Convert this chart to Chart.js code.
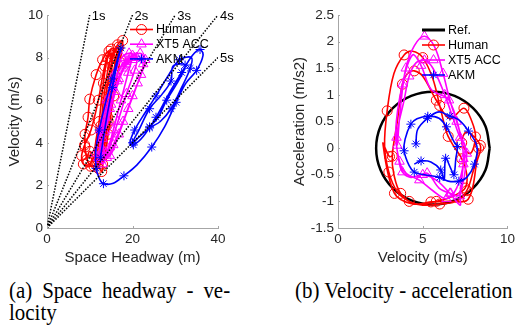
<!DOCTYPE html>
<html>
<head>
<meta charset="utf-8">
<script src="https://cdn.jsdelivr.net/npm/chart.js@4.4.1/dist/chart.umd.min.js"></script>
<style>
body { margin: 0; background: #fff; }
#page { position: relative; width: 518px; height: 326px; overflow: hidden; }
canvas { position: absolute; top: 0; }
#c1 { left: 0; }
#c2 { left: 259px; }
.cap { position: absolute; top: 280px; font-family: "Liberation Serif", "Times New Roman", serif; font-size: 23px; line-height: 22px; color: #000; transform: scaleX(0.91); transform-origin: 0 0; white-space: nowrap; }
.cap .just { width: 243px; white-space: normal; text-align: justify; text-align-last: justify; }
</style>
</head>
<body>
<div id="page">
  <canvas id="c1" width="259" height="271"></canvas>
  <canvas id="c2" width="259" height="271"></canvas>
  <div class="cap" style="left:9px"><div class="just">(a) Space headway - ve-</div><div>locity</div></div>
  <div class="cap" style="left:295px">(b) Velocity - acceleration</div>
</div>
<script>
// ---- data: (a) space headway vs velocity ----
var headwayTicks = [0, 20, 40];
var speedTicks = [0, 2, 4, 6, 8, 10];
var gapNames = ['1s', '2s', '3s', '4s', '5s'];
var gapEndHeadway = [10, 20, 30, 40, 40];
var gapEndSpeed = [10, 10, 10, 10, 8];

var humanGap = [12.0, 12.8, 14.0, 15.5, 16.8, 15.8, 14.2, 12.5, 11.0, 9.6, 8.9, 8.9, 9.6, 10.0, 11.5, 13.0, 14.5, 15.2, 14.0, 12.8,
  11.3, 10.2, 8.5, 8.1, 8.8, 10.3, 12.0, 13.5, 15.0, 16.3, 15.5, 14.3, 13.2, 12.8, 11.8, 12.6, 13.6, 14.8, 16.5, 17.7,
  17.0, 15.6, 14.3, 13.0, 11.2, 12.2, 13.2, 14.2, 15.4, 16.0, 15.0, 13.8, 12.6, 11.5, 10.0, 9.3];
var humanSpeed = [2.8, 4.5, 6.5, 8.1, 8.5, 7.2, 5.2, 3.6, 2.9, 3.1, 3.8, 4.4, 5.2, 6.05, 7.2, 7.9, 8.3, 7.6, 5.8, 4.0,
  3.0, 2.9, 3.0, 3.4, 3.9, 4.6, 6.0, 7.6, 8.4, 8.2, 6.8, 5.0, 3.4, 2.65, 3.2, 4.8, 6.6, 7.9, 8.6, 8.8,
  7.8, 6.2, 4.4, 3.0, 3.4, 5.0, 6.8, 8.0, 8.2, 8.0, 6.6, 4.8, 3.3, 3.1, 3.6, 3.2];

var xt5Gap = [12.5, 13.5, 15.0, 16.8, 18.5, 20.0, 19.0, 17.3, 15.5, 13.8, 12.0, 11.3, 12.5, 14.0, 15.7, 17.5, 19.2, 21.0, 20.5, 18.6,
  16.6, 14.7, 13.0, 12.4, 13.6, 15.4, 17.3, 19.5, 21.8, 23.0, 22.0, 20.0, 17.8, 15.5, 14.0, 13.0, 14.7, 16.5, 18.5, 20.5,
  22.5, 21.2, 19.0, 16.8, 14.7, 12.8, 14.2, 16.0, 18.0, 20.0];
var xt5Speed = [3.2, 4.5, 5.8, 7.0, 7.8, 8.1, 7.3, 6.0, 4.6, 3.5, 3.3, 3.5, 4.6, 6.0, 7.2, 8.0, 8.2, 8.0, 7.4, 6.3,
  5.0, 3.8, 3.0, 3.9, 5.2, 6.6, 7.6, 8.0, 8.2, 7.9, 7.2, 6.2, 5.0, 3.9, 3.3, 4.2, 5.6, 6.9, 7.7, 8.0,
  7.7, 6.8, 5.6, 4.4, 3.4, 3.6, 5.0, 6.4, 7.5, 7.9];

var akmGap = [12.5, 13.8, 15.3, 16.5, 17.3, 16.6, 15.2, 13.6, 12.2, 11.4, 11.5, 12.3, 13.2, 15.5, 18.0, 21.0, 24.5, 27.5, 30.2, 32.5,
  35.0, 36.5, 35.8, 34.0, 31.5, 28.5, 25.5, 22.5, 20.2, 19.4, 20.5, 22.9, 25.5, 28.5, 31.0, 33.8, 33.5, 31.5, 29.0, 26.5,
  24.0, 21.7, 20.0, 21.5, 24.0, 26.8, 29.0, 29.5, 32.3, 31.0, 28.0, 26.0, 24.0];
var akmSpeed = [3.3, 5.0, 6.6, 7.8, 8.45, 8.0, 7.0, 5.8, 4.6, 3.6, 2.8, 2.3, 2.08, 2.1, 2.45, 2.95, 3.8, 4.75, 5.9, 6.8,
  7.4, 8.1, 8.38, 8.1, 7.3, 6.3, 5.2, 4.3, 3.9, 4.0, 4.6, 5.4, 6.2, 7.2, 7.9, 8.0, 7.5, 6.6, 5.6, 5.0,
  4.7, 4.3, 4.0, 4.6, 5.6, 6.25, 6.9, 7.6, 7.65, 7.0, 6.0, 5.2, 4.75];

// ---- data: (b) velocity vs acceleration ----
var velTicks = [0, 5, 10];
var accTicks = [-1.5, -1, -0.5, 0, 0.5, 1, 1.5, 2, 2.5];

var refVel = [8.95, 8.70, 7.97, 6.88, 5.6, 4.32, 3.23, 2.51, 2.25, 2.51, 3.23, 4.32, 5.6, 6.88, 7.97, 8.70, 8.95];
var refAcc = [0, 0.41, 0.75, 0.98, 1.06, 0.98, 0.75, 0.41, 0, -0.41, -0.75, -0.98, -1.06, -0.98, -0.75, -0.41, 0];

var humanVel = [8.3, 8.0, 7.6, 7.0, 6.0, 5.0, 4.2, 3.5, 3.0, 2.75, 2.9, 3.3, 3.9, 4.4, 5.0, 5.6, 6.0, 6.35, 6.5, 6.8,
  7.3, 7.6, 7.5, 6.8, 5.8, 4.6, 3.7, 3.3, 3.2, 3.5, 3.8, 4.1, 4.5, 5.0, 5.8, 6.6, 7.43, 7.9, 8.11, 7.8,
  7.3, 7.6, 8.4, 8.2, 7.68, 6.5, 5.48, 4.4, 3.33, 2.65, 3.04, 3.25];
var humanAcc = [0.0, -0.4, -0.8, -1.0, -1.05, -1.07, -1.0, -0.82, -0.45, 0.05, 0.7, 1.4, 1.75, 1.82, 1.7, 1.3, 0.8, 0.35, 0.22, 0.05,
  -0.2, -0.5, -0.75, -0.9, -1.0, -1.05, -0.85, -0.5, -0.15, 0.5, 1.2, 1.4, 1.45, 1.35, 0.9, 0.55, 0.75, 0.5, 0.21, -0.1,
  0.1, 0.3, 0.05, -0.25, -0.96, -1.0, -1.01, -1.05, -0.85, 0.09, -0.16, -0.13];

var xt5Vel = [3.5, 3.7, 4.0, 4.5, 5.1, 5.7, 6.2, 6.6, 7.0, 7.3, 7.4, 7.3, 7.2, 7.2, 6.6, 5.8, 5.0, 4.3, 3.8, 3.6,
  3.45, 3.9, 4.2, 4.6, 5.1, 5.6, 6.3, 6.8, 7.2, 7.5, 7.4, 7.0, 6.4, 5.6, 4.8, 4.0, 3.63, 3.4, 3.8, 4.4,
  4.9, 5.5, 6.55, 7.33, 7.6, 7.16, 6.65, 5.96, 5.26, 4.6];
var xt5Acc = [0.05, 0.8, 1.5, 1.92, 2.1, 1.9, 1.4, 0.9, 0.5, 0.15, -0.2, -0.6, -0.9, -1.07, -0.85, -0.6, -0.5, -0.55, -0.45, -0.25,
  0.2, 0.9, 1.35, 1.6, 1.65, 1.5, 1.0, 0.55, 0.2, 0.05, -0.3, -0.75, -0.95, -0.8, -0.6, -0.47, -0.25, 0.3, 1.2, 1.75,
  1.55, 1.1, 0.9, 0.15, -0.1, -0.88, -0.85, -0.75, -0.47, -0.57];

var akmVel = [4.6, 4.7, 5.28, 5.96, 6.6, 7.13, 7.7, 8.2, 8.05, 7.6, 7.13, 6.5, 6.0, 5.09, 4.5, 4.2, 3.9, 3.96, 4.3, 4.66,
  5.3, 5.96, 6.4, 6.84, 7.04, 6.95, 6.84, 6.65, 6.35, 6.26, 6.06, 5.48, 4.9, 4.5];
var akmAcc = [0.08, 0.35, 0.56, 0.68, 0.6, 0.53, 0.32, 0.03, -0.3, -0.55, -0.62, -0.62, -0.55, -0.5, -0.45, -0.33, -0.05, 0.17, 0.45, 0.55,
  0.6, 0.56, 0.4, 0.12, 0.03, -0.2, -0.5, -0.38, -0.19, -0.6, -0.41, -0.26, -0.24, -0.3];

// ---- styles ----
var FONT = '"Liberation Sans", Arial, Helvetica, sans-serif';
var TEXT_COLOR = '#262626';
var AXIS_COLOR = '#a6a6a6';

var REF = {label: 'Ref.', color: '#000000', width: 2.5, marker: null};
var HUMAN = {label: 'Human', color: '#ff0000', width: 1.6, marker: 'circle', radius: 5};
var XT5 = {label: 'XT5 ACC', color: '#ff00ff', width: 1.6, marker: 'triangle', radius: 5.5};
var AKM = {label: 'AKM', color: '#0000ff', width: 1.6, marker: 'star', radius: 4.5};

function pairs(xs, ys) {
    return xs.map(function(x, i) { return {x: x, y: ys[i]}; });
}

function series(s, xs, ys, every, order) {
    return {
        data: pairs(xs, ys),
        showLine: true,
        tension: 0.35,
        borderColor: s.color,
        borderWidth: s.width,
        pointStyle: s.marker || 'circle',
        pointRadius: function(ctx) { return (s.marker && ctx.dataIndex % every === 0) ? s.radius : 0; },
        pointHoverRadius: 0,
        pointBorderColor: s.color,
        pointBackgroundColor: 'rgba(0,0,0,0)',
        pointBorderWidth: 1,
        order: order
    };
}

function axis(ticks, min, max, title, size, horizontal) {
    return {
        type: 'linear',
        min: min,
        max: max,
        afterBuildTicks: function(scale) {
            scale.ticks = ticks.map(function(v) { return {value: v}; });
        },
        afterFit: function(scale) {
            if (horizontal) { scale.height = size; } else { scale.width = size; }
        },
        ticks: {
            callback: function(v) { return String(v); },
            font: {family: FONT, size: 13.5},
            color: TEXT_COLOR,
            padding: horizontal ? 3 : 4,
            maxRotation: 0,
            autoSkip: false
        },
        grid: {drawOnChartArea: false, drawTicks: false},
        border: {color: AXIS_COLOR, width: 1},
        title: {display: true, text: title, font: {family: FONT, size: 15}, color: TEXT_COLOR, padding: {top: 4, bottom: 4}}
    };
}

function drawMarker(ctx, style, x, y, r) {
    ctx.beginPath();
    if (style === 'circle') {
        ctx.arc(x, y, r, 0, Math.PI * 2);
    } else if (style === 'triangle') {
        for (let k = 0; k < 3; k++) {
            const a = k * 2 * Math.PI / 3;
            const px = x + Math.sin(a) * r, py = y - Math.cos(a) * r;
            if (k) { ctx.lineTo(px, py); } else { ctx.moveTo(px, py); }
        }
        ctx.closePath();
    } else if (style === 'star') {
        for (let k = 0; k < 4; k++) {
            const a = k * Math.PI / 4;
            ctx.moveTo(x + Math.cos(a) * r, y + Math.sin(a) * r);
            ctx.lineTo(x - Math.cos(a) * r, y - Math.sin(a) * r);
        }
    }
    ctx.stroke();
}

// legend drawn inside the plot, no box (like matlab 'boxoff')
function legendPlugin(id, entries, x0, y0, dy) {
    return {
        id: id,
        afterDraw: function(chart) {
            const ctx = chart.ctx;
            ctx.save();
            entries.forEach(function(e, i) {
                const y = y0 + i * dy;
                ctx.strokeStyle = e.color;
                ctx.lineWidth = e.marker ? e.width : 3;
                ctx.beginPath();
                ctx.moveTo(x0, y);
                ctx.lineTo(x0 + 23, y);
                ctx.stroke();
                if (e.marker) {
                    ctx.lineWidth = 1;
                    drawMarker(ctx, e.marker, x0 + 11.5, y, e.radius);
                }
                ctx.fillStyle = '#000';
                ctx.font = '12.5px ' + FONT;
                ctx.textAlign = 'left';
                ctx.textBaseline = 'middle';
                ctx.fillText(e.label, x0 + 26, y + 0.5);
            });
            ctx.restore();
        }
    };
}

// small inward ticks
var innerTicks = {
    id: 'innerTicks',
    afterDraw: function(chart) {
        const ctx = chart.ctx, a = chart.chartArea, sx = chart.scales.x, sy = chart.scales.y;
        ctx.save();
        ctx.strokeStyle = AXIS_COLOR;
        ctx.lineWidth = 1;
        ctx.beginPath();
        sx.ticks.forEach(function(t) {
            const px = Math.round(sx.getPixelForValue(t.value)) + 0.5;
            ctx.moveTo(px, a.bottom);
            ctx.lineTo(px, a.bottom - 2);
        });
        sy.ticks.forEach(function(t) {
            const py = Math.round(sy.getPixelForValue(t.value)) + 0.5;
            ctx.moveTo(a.left, py);
            ctx.lineTo(a.left + 2, py);
        });
        ctx.stroke();
        ctx.restore();
    }
};

var gapLabels = {
    id: 'gapLabels',
    afterDraw: function(chart) {
        const ctx = chart.ctx, sx = chart.scales.x, sy = chart.scales.y;
        ctx.save();
        ctx.fillStyle = '#000';
        ctx.font = '13px ' + FONT;
        ctx.textAlign = 'left';
        ctx.textBaseline = 'middle';
        gapNames.forEach(function(name, i) {
            ctx.fillText(name, sx.getPixelForValue(gapEndHeadway[i]) + 2, sy.getPixelForValue(gapEndSpeed[i]) + 1);
        });
        ctx.restore();
    }
};

var gapDatasets = gapNames.map(function(name, i) {
    return {
        data: [{x: 0, y: 0}, {x: gapEndHeadway[i], y: gapEndSpeed[i]}],
        showLine: true,
        borderColor: '#000',
        borderWidth: 1.5,
        borderDash: [1.5, 1.5],
        pointRadius: 0,
        pointHoverRadius: 0,
        order: 0
    };
});

var baseOptions = {
    responsive: false,
    animation: false,
    devicePixelRatio: 1,
    plugins: {legend: {display: false}, tooltip: {enabled: false}}
};

new Chart(document.getElementById('c1'), {
    type: 'scatter',
    data: {
        datasets: gapDatasets.concat([
            series(AKM, akmGap, akmSpeed, 2, 1),
            series(XT5, xt5Gap, xt5Speed, 1, 2),
            series(HUMAN, humanGap, humanSpeed, 1, 3)
        ])
    },
    options: Object.assign({}, baseOptions, {
        layout: {padding: {left: 2, top: 15, right: 41, bottom: 0}},
        scales: {
            x: axis(headwayTicks, 0, 40, 'Space Headway (m)', 43, true),
            y: axis(speedTicks, 0, 10, 'Velocity (m/s)', 45, false)
        }
    }),
    plugins: [innerTicks, gapLabels, legendPlugin('legA', [HUMAN, XT5, AKM], 130, 29.5, 14.7)]
});

new Chart(document.getElementById('c2'), {
    type: 'scatter',
    data: {
        datasets: [
            series(AKM, akmVel, akmAcc, 2, 1),
            series(XT5, xt5Vel, xt5Acc, 2, 2),
            series(HUMAN, humanVel, humanAcc, 2, 3),
            series(REF, refVel, refAcc, 1, 4)
        ]
    },
    options: Object.assign({}, baseOptions, {
        layout: {padding: {left: 28, top: 15, right: 9, bottom: 0}},
        scales: {
            x: axis(velTicks, 0, 10, 'Velocity (m/s)', 43, true),
            y: axis(accTicks, -1.5, 2.5, 'Acceleration (m/s2)', 51, false)
        }
    }),
    plugins: [innerTicks, legendPlugin('legB', [REF, HUMAN, XT5, AKM], 163, 30, 15)]
});
</script>
</body>
</html>
